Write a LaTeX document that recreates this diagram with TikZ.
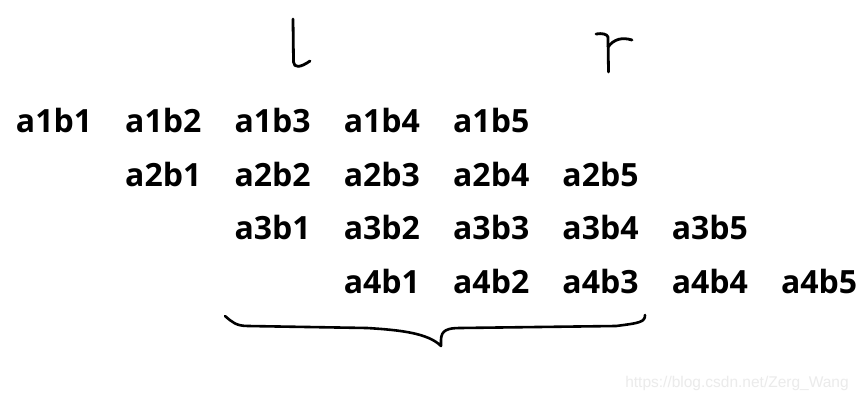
\documentclass[tikz,border=0pt]{standalone}
\usepackage{fontspec}
\setmainfont{Open Sans}
\newfontfamily\wmfont{Liberation Sans}
\begin{document}
\begin{tikzpicture}[x=1pt,y=-1pt,
  cell/.style={font=\bfseries\fontsize{32}{36}\selectfont, inner sep=0pt, anchor=center},
  hand/.style={line width=2.8pt, line cap=round, line join=round, black}]
\useasboundingbox (0,0) rectangle (861,401);
\fill[white] (0,0) rectangle (861,401);
% grid
\foreach \i/\yy in {1/120,2/174,3/227,4/281}{
  \foreach \j in {1,...,5}{
    \pgfmathsetmacro{\xx}{54+109.3*(\i-1)+109.3*(\j-1)}
    \node[cell] (a\i b\j) at (\xx,\yy) {a\i b\j};
  }
}
% handwritten l
\draw[hand] (293,19) -- (293.5,62) .. controls (294,68) and (300,68) .. (310,61);
% handwritten r
\draw[hand] (596,34) .. controls (602,33) and (607,34) .. (608,37) -- (608.5,72);
\draw[hand] (608,47) .. controls (614,39) and (622,37) .. (632,40);
% brace
\draw[hand, line width=2.6pt] (225,316) .. controls (232,322) and (236,326) .. (248,326)
  -- (367,328) .. controls (400,330) and (428,333) .. (441,346)
  -- (441,340) .. controls (441,330) and (448,328) .. (460,328)
  -- (616,326) .. controls (640,323) and (645,322) .. (645,315);
% watermark
\node[font=\wmfont\fontsize{15.5}{18}\selectfont, text=black!8, inner sep=0pt] (wm) at (737,383) {https://blog.csdn.net/Zerg\_Wang};
\end{tikzpicture}
\end{document}
